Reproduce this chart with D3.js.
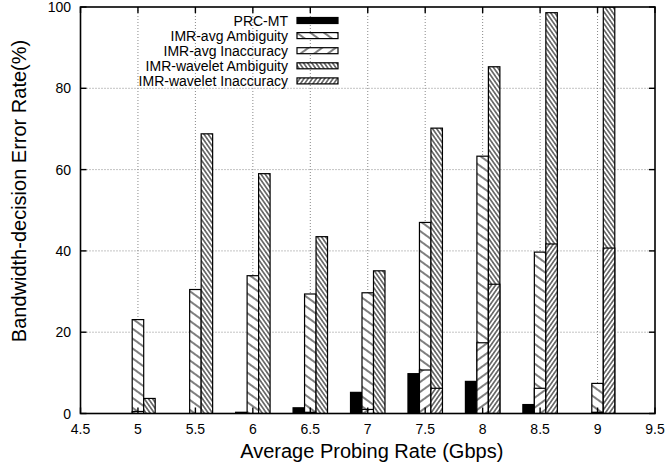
<!DOCTYPE html>
<html lang="en">
<head>
    <meta charset="UTF-8">
    <title>Bandwidth-decision Error Rate</title>
    <script src="https://d3js.org/d3.v7.min.js"></script>
    <style>
        body {
            margin: 0;
            padding: 0;
            background-color: #fff;
        }
        svg {
            display: block;
            font-family: "Liberation Sans", Arial, sans-serif;
        }
    </style>
</head>
<body>
    <svg id="chart" width="668" height="465"></svg>

    <script>
        // Data
        const rates = [5, 5.5, 6, 6.5, 7, 7.5, 8, 8.5, 9];
        const prcMT = [0, 0, 0.3, 1.4, 5.2, 9.8, 7.9, 2.2, 0];
        const avgAmbiguity = [23.1, 30.5, 33.9, 29.4, 29.7, 47.0, 63.3, 39.7, 7.4];
        const avgInaccuracy = [0.5, 0, 0, 0.3, 1.0, 10.7, 17.4, 6.2, 0.3];
        const waveletAmbiguity = [3.7, 68.8, 59.0, 43.5, 35.1, 70.2, 85.3, 98.6, 100];
        const waveletInaccuracy = [0, 0, 0, 0, 0, 6.2, 31.8, 41.7, 40.7];
        const seriesNames = ["PRC-MT", "IMR-avg Ambiguity", "IMR-avg Inaccuracy",
                             "IMR-wavelet Ambiguity", "IMR-wavelet Inaccuracy"];
        const xTicks = [4.5, 5, 5.5, 6, 6.5, 7, 7.5, 8, 8.5, 9, 9.5];
        const yTicks = [0, 20, 40, 60, 80, 100];

        const svg = d3.select("#chart");
        const pL = 80.5, pR = 655, pT = 7, pB = 413.5;

        const x = d3.scaleLinear().domain([4.5, 9.5]).range([pL, pR]);
        const y = d3.scaleLinear().domain([0, 100]).range([pB, pT]);

        // hatch patterns
        const defs = svg.append("defs");
        const makeHatch = (id, gap, angle) => {
            const p = defs.append("pattern")
                .attr("id", id)
                .attr("patternUnits", "userSpaceOnUse")
                .attr("width", 20)
                .attr("height", gap)
                .attr("patternTransform", `rotate(${angle})`);
            p.append("rect").attr("width", 20).attr("height", gap).attr("fill", "#fff");
            p.append("line")
                .attr("x1", 0).attr("x2", 20)
                .attr("y1", gap / 2).attr("y2", gap / 2)
                .attr("stroke", "#000").attr("stroke-width", 1);
        };
        makeHatch("sparseBack", 8, 36);
        makeHatch("sparseFwd", 8, -36);
        makeHatch("denseBack", 3.4, 55);
        makeHatch("denseFwd", 3.4, -55);

        const fills = ["#000", "url(#sparseBack)", "url(#sparseFwd)", "url(#denseBack)", "url(#denseFwd)"];
        const offsets = [-0.1, 0, 0, 0.1, 0.1];
        const allSeries = [prcMT, avgAmbiguity, avgInaccuracy, waveletAmbiguity, waveletInaccuracy];

        svg.append("clipPath").attr("id", "plotClip")
            .append("rect")
            .attr("x", pL).attr("y", pT)
            .attr("width", pR - pL).attr("height", pB - pT);

        // grid lines
        const grid = svg.append("g")
            .attr("stroke", "#888")
            .attr("stroke-width", 1)
            .attr("stroke-dasharray", "1,2");
        grid.selectAll(".gy")
            .data(yTicks.filter(d => d > 0 && d < 100))
            .enter().append("line")
            .attr("x1", pL).attr("x2", pR)
            .attr("y1", d => y(d)).attr("y2", d => y(d));
        grid.selectAll(".gx")
            .data(xTicks.filter(d => d > 4.5 && d < 9.5))
            .enter().append("line")
            .attr("y1", pT).attr("y2", pB)
            .attr("x1", d => x(d)).attr("x2", d => x(d));

        // bars, drawn series by series so later ones sit in front
        const bars = svg.append("g").attr("clip-path", "url(#plotClip)");
        allSeries.forEach((vals, s) => {
            bars.selectAll(".s" + s)
                .data(vals.map((v, i) => ({ rate: rates[i], v: v })).filter(d => d.v > 0))
                .enter().append("rect")
                .attr("x", d => x(d.rate + offsets[s] - 0.05))
                .attr("width", d => x(d.rate + offsets[s] + 0.05) - x(d.rate + offsets[s] - 0.05))
                .attr("y", d => y(d.v))
                .attr("height", d => y(0) - y(d.v))
                .attr("fill", fills[s])
                .attr("stroke", "#000")
                .attr("stroke-width", 1.2);
        });

        // frame and ticks
        svg.append("rect")
            .attr("x", pL).attr("y", pT)
            .attr("width", pR - pL).attr("height", pB - pT)
            .attr("fill", "none").attr("stroke", "#000").attr("stroke-width", 1.6);

        const ticks = svg.append("g").attr("stroke", "#000").attr("stroke-width", 1.4);
        yTicks.forEach(t => {
            ticks.append("line").attr("x1", pL).attr("x2", pL + 6).attr("y1", y(t)).attr("y2", y(t));
            ticks.append("line").attr("x1", pR).attr("x2", pR - 6).attr("y1", y(t)).attr("y2", y(t));
        });
        xTicks.forEach(t => {
            ticks.append("line").attr("x1", x(t)).attr("x2", x(t)).attr("y1", pB).attr("y2", pB - 6);
            ticks.append("line").attr("x1", x(t)).attr("x2", x(t)).attr("y1", pT).attr("y2", pT + 6);
        });

        svg.selectAll(".ylab")
            .data(yTicks)
            .enter().append("text")
            .attr("x", 71)
            .attr("y", d => y(d) + 5)
            .attr("text-anchor", "end")
            .attr("font-size", 14)
            .text(d => d);

        svg.selectAll(".xlab")
            .data(xTicks)
            .enter().append("text")
            .attr("x", d => x(d))
            .attr("y", 434)
            .attr("text-anchor", "middle")
            .attr("font-size", 14)
            .text(d => d);

        svg.append("text")
            .attr("x", (pL + pR) / 2 + 4)
            .attr("y", 457.5)
            .attr("text-anchor", "middle")
            .attr("font-size", 20)
            .text("Average Probing Rate (Gbps)");

        svg.append("text")
            .attr("transform", "translate(26,191) rotate(-90)")
            .attr("text-anchor", "middle")
            .attr("font-size", 20)
            .text("Bandwidth-decision Error Rate(%)");

        // legend
        const legend = svg.append("g");
        seriesNames.forEach((name, i) => {
            const ly = 20.5 + i * 15.1;
            legend.append("text")
                .attr("x", 288)
                .attr("y", ly + 5)
                .attr("text-anchor", "end")
                .attr("font-size", 14)
                .text(name);
            legend.append("rect")
                .attr("x", 297).attr("y", ly - 3)
                .attr("width", 41).attr("height", 6)
                .attr("fill", fills[i])
                .attr("stroke", "#000")
                .attr("stroke-width", 1.2);
        });
    </script>
</body>
</html>
